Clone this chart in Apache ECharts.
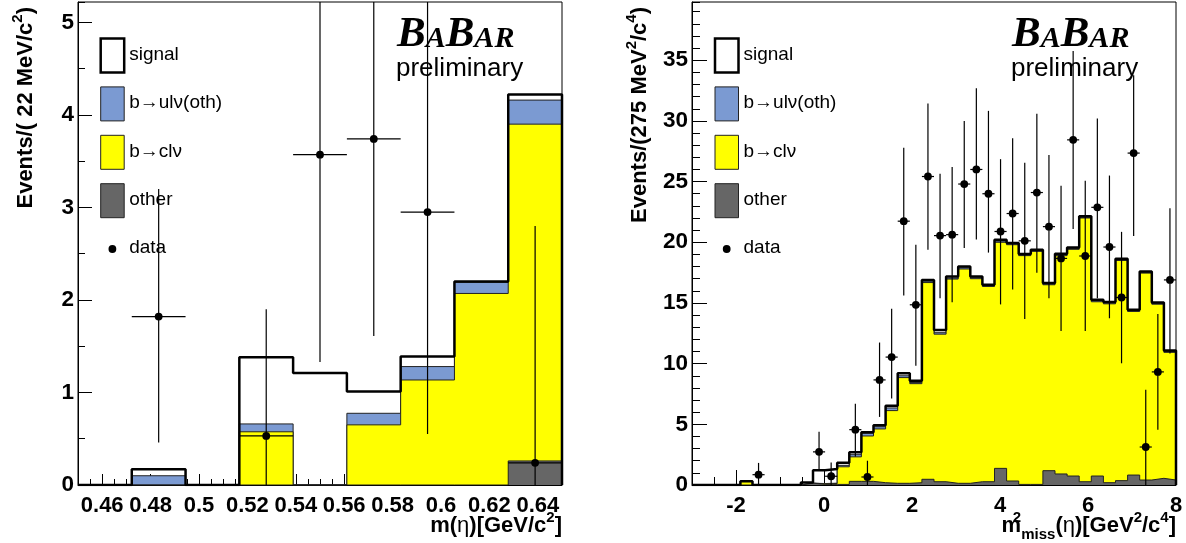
<!DOCTYPE html>
<html><head><meta charset="utf-8">
<script src="https://cdn.jsdelivr.net/npm/echarts@6/dist/echarts.min.js"></script>
<style>html,body{margin:0;padding:0;background:#fff}#c{width:1186px;height:543px}</style>
</head><body><div id="c"></div>
<script>
// ---------- left panel : m(eta), 9 bins of 22 MeV ----------
const leftBinMin = 0.45, leftBinMax = 0.65, leftBinCount = 9;
// stack levels (cumulative tops)
const leftSignalTop = [0, 0.17, 0, 1.38, 1.21, 1.01, 1.39, 2.20, 4.22];
const leftUlnuTop   = [0, 0.10, 0, 0.66, 0,    0.775, 1.28, 2.19, 4.16];
const leftClnuTop   = [0, 0,    0, 0.575, 0,   0.65, 1.135, 2.07, 3.90];
const leftOtherTop  = [0, 0,    0, 0,    0,    0,    0,    0,    0.26];
const leftDataBin   = [1, 3, 4, 5, 6, 8];
const leftDataY     = [1.82, 0.53, 3.57, 3.74, 2.95, 0.24];
const leftDataLow   = [0.46, 0, 1.33, 1.61, 0.55, 0];
const leftDataHigh  = [3.20, 1.90, 6.30, 6.60, 5.50, 2.80];
const leftYMax = 5.22;

// ---------- right panel : m2miss, 40 bins of 0.275 GeV2 ----------
const rightBinMin = -3, rightBinMax = 8, rightBinCount = 40;
const rightSignalTop = [0,0,0,0,0.3,0,0,0,0,0.2,1.22,1.32,1.83,2.70,4.35,4.92,6.53,9.2,8.6,16.9,
  12.78,17.19,18.01,17.19,16.5,20.21,19.94,19.03,19.39,16.64,19.06,19.58,22.14,15.26,15.07,18.65,14.44,17.6,15.04,11.08];
const rightUlnuTop = [0,0,0,0,0.3,0,0,0,0,0.15,0.12,0.15,1.62,2.5,4.26,4.8,6.35,9.0,8.45,16.8,
  12.55,17.05,17.9,17.08,16.42,20.1,19.86,18.96,19.32,16.57,18.98,19.5,22.06,15.18,15.0,18.58,14.37,17.53,14.97,11.0];
const rightClnuTop = [0,0,0,0,0.3,0,0,0,0,0.15,0.1,0.12,1.5,2.32,4.04,4.62,6.13,8.85,8.35,16.68,
  12.43,16.97,17.8,17.0,16.36,20.0,19.8,18.9,19.25,16.5,18.9,19.42,22.0,15.1,14.93,18.5,14.3,17.46,14.9,10.93];
const rightOtherTop = [0,0,0,0,0,0,0,0,0,0.15,0.05,0.05,0.05,0.3,0.3,0.19,0.14,0.14,0.19,0.47,
  0.27,0.14,0.14,0.27,0.27,1.37,0.33,0.05,0.05,1.18,0.91,0.74,0.27,0.74,0.19,0.36,0.82,0.41,0.55,0.41];
const rightDataBin  = [5,10,11,13,14,15,16,17,18,19,20,21,22,23,24,25,26,27,28,29,30,31,32,33,34,35,36,37,38,39];
const rightDataY    = [0.85,2.73,0.72,4.56,0.66,8.66,10.54,21.74,14.85,25.42,20.55,20.63,24.8,26.0,24.0,20.89,22.37,20.12,24.1,21.29,18.67,28.44,18.87,22.88,19.61,15.45,27.35,3.13,9.32,16.9];
const rightDataLow  = [0,1.22,0,2.34,0,5.61,7.12,15.62,9.83,19.38,15.39,15.05,19.52,20.23,19.15,14.88,16.1,13.68,17.5,15.39,12.68,21.09,12.68,15.39,13.74,10.03,20.52,0,4.56,10.83];
const rightDataHigh = [1.82,4.38,1.85,6.70,2.0,11.74,14.53,27.79,19.8,31.43,25.65,26.2,30.0,32.7,30.83,26.85,28.58,26.56,30.6,27.2,24.65,35.76,25.08,30.2,25.5,20.86,33.77,7.84,14.1,22.8];
const rightYMax = 39.8;

const legendNames = ['signal', 'b\u2192ul\u03bd(oth)', 'b\u2192cl\u03bd', 'other', 'data'];

const FONT = '"Liberation Sans", Arial, Helvetica, sans-serif';
const SERIF = '"Liberation Serif", "Times New Roman", serif';
const BLUE = '#7b9ad2', YELLOW = '#ffff00', GRAY = '#666666', EDGE = '#222222';

function stepData(min, max, tops) {
  const n = tops.length, w = (max - min) / n, pts = [[min, 0]];
  for (let i = 0; i < n; i++) pts.push([min + i * w, tops[i]]);
  pts.push([max, tops[n - 1]]);
  pts.push([max, 0]);
  return pts;
}
function dataItems(min, max, n, bins, y, lo, hi) {
  const w = (max - min) / n;
  return bins.map((b, i) => [min + (b + 0.5) * w, y[i], lo[i], hi[i], min + b * w, min + (b + 1) * w]);
}
function renderPoint(params, api) {
  const x = api.value(0), y = api.value(1);
  const c = api.coord([x, y]);
  const a = api.coord([x, api.value(2)]);
  const b = api.coord([x, api.value(3)]);
  const l = api.coord([api.value(4), y]);
  const r = api.coord([api.value(5), y]);
  return {type: 'group', children: [
    {type: 'line', shape: {x1: a[0], y1: a[1], x2: b[0], y2: b[1]}, style: {stroke: '#000', lineWidth: 1.2}},
    {type: 'line', shape: {x1: l[0], y1: l[1], x2: r[0], y2: r[1]}, style: {stroke: '#000', lineWidth: 1.2}},
    {type: 'circle', shape: {cx: c[0], cy: c[1], r: 3.9}, style: {fill: '#000'}}
  ]};
}
function hist(name, ax, data, fill, stroke, lw, z) {
  const s = {type: 'line', name: name, xAxisIndex: ax, yAxisIndex: ax, data: data, step: 'end',
    symbol: 'none', showSymbol: false, silent: true, animation: false, z: z,
    lineStyle: {color: stroke, width: lw}};
  if (fill) s.areaStyle = {color: fill, opacity: 1};
  return s;
}

const RICH = {
  t: {fontSize: 22, fontWeight: 'bold', fontFamily: FONT, color: '#000', lineHeight: 32, verticalAlign: 'middle'},
  g: {fontSize: 22, fontWeight: 'normal', fontFamily: FONT, color: '#000', lineHeight: 32, verticalAlign: 'middle'},
  s: {fontSize: 15, fontWeight: 'bold', fontFamily: FONT, color: '#000', lineHeight: 15, verticalAlign: 'top'},
  s0: {fontSize: 15, fontWeight: 'bold', fontFamily: FONT, color: '#000', lineHeight: 15, verticalAlign: 'top', width: 0.1},
  u: {fontSize: 15, fontWeight: 'bold', fontFamily: FONT, color: '#000', lineHeight: 15, verticalAlign: 'bottom'}
};
const tickFont = (size) => ({color: '#000', fontFamily: FONT, fontWeight: 'bold', fontSize: size});

function xMain(grid, min, max, split, tickLen, showMax, name) {
  return {type: 'value', gridIndex: grid, min: min, max: max, splitNumber: split, position: 'bottom',
    axisLine: {onZero: false, lineStyle: {color: '#000', width: 1}},
    axisTick: {inside: true, length: tickLen, lineStyle: {color: '#000', width: 1}},
    axisLabel: Object.assign(tickFont(22), {margin: 10, showMinLabel: false, showMaxLabel: showMax}),
    splitLine: {show: false},
    name: name, nameLocation: 'end', nameGap: 0, nameMoveOverlap: false,
    nameTextStyle: {align: 'right', verticalAlign: 'top', padding: [25, 0, 0, 0], rich: RICH}};
}
function xMinor(grid, min, max, interval, tickLen) {
  return {type: 'value', gridIndex: grid, min: min, max: max, interval: interval, position: 'bottom',
    axisLine: {show: false, onZero: false}, axisLabel: {show: false}, splitLine: {show: false},
    axisTick: {inside: true, length: tickLen, lineStyle: {color: '#000', width: 1}}};
}
function yMain(grid, max, interval, tickLen, name) {
  return {type: 'value', gridIndex: grid, min: 0, max: max, interval: interval, position: 'left',
    axisLine: {onZero: false, lineStyle: {color: '#000', width: 1}},
    axisTick: {inside: true, length: tickLen, lineStyle: {color: '#000', width: 1}},
    axisLabel: Object.assign(tickFont(22.5), {margin: 4, showMaxLabel: false}),
    splitLine: {show: false},
    name: name, nameLocation: 'end', nameRotate: 90, nameGap: -5, nameMoveOverlap: false,
    nameTextStyle: {align: 'right', verticalAlign: 'bottom', padding: [0, 0, 36, 0], rich: RICH}};
}
function yMinor(grid, max, interval, tickLen) {
  return {type: 'value', gridIndex: grid, min: 0, max: max, interval: interval, position: 'left',
    axisLine: {show: false, onZero: false}, axisLabel: {show: false}, splitLine: {show: false},
    axisTick: {inside: true, length: tickLen, lineStyle: {color: '#000', width: 1}}};
}

function legendGraphics(x0) {
  const fills = [['#ffffff', '#000', 2.5], [BLUE, EDGE, 1], [YELLOW, EDGE, 1], [GRAY, EDGE, 1]];
  const out = [];
  for (let i = 0; i < 4; i++) {
    const yc = 55.5 + i * 48.4;
    out.push({type: 'rect', silent: true, z: 50, shape: {x: x0, y: yc - 17, width: 23.5, height: 34},
      style: {fill: fills[i][0], stroke: fills[i][1], lineWidth: fills[i][2]}});
    out.push({type: 'text', silent: true, z: 50, x: x0 + 28.5, y: yc - 1,
      style: {text: legendNames[i], fontSize: 19, fontFamily: FONT, fill: '#000', verticalAlign: 'middle', align: 'left'}});
  }
  out.push({type: 'circle', silent: true, z: 50, shape: {cx: x0 + 11.7, cy: 249, r: 3.9}, style: {fill: '#000'}});
  out.push({type: 'text', silent: true, z: 50, x: x0 + 28.5, y: 248,
    style: {text: legendNames[4], fontSize: 19, fontFamily: FONT, fill: '#000', verticalAlign: 'middle', align: 'left'}});
  return out;
}
function logoGraphics(x0) {
  const big = {fontSize: 43, fontFamily: SERIF, fontStyle: 'italic', fontWeight: 'bold', fill: '#000', verticalAlign: 'bottom', lineHeight: 43};
  const small = {fontSize: 30, fontFamily: SERIF, fontStyle: 'italic', fontWeight: 'bold', fill: '#000', verticalAlign: 'bottom', lineHeight: 30, padding: [0, 0, 2, 0]};
  return [
    {type: 'text', silent: true, z: 50, x: x0, y: 56,
      style: {text: '{B|B}{A|A}{B|B}{A|AR}', rich: {B: big, A: small}, verticalAlign: 'bottom', align: 'left'}},
    {type: 'text', silent: true, z: 50, x: x0 - 1, y: 68.5,
      style: {text: 'preliminary', fontSize: 26, fontFamily: FONT, fill: '#000', verticalAlign: 'middle', align: 'left'}}
  ];
}

const option = {
  animation: false,
  backgroundColor: '#ffffff',
  textStyle: {fontFamily: FONT},
  grid: [
    {left: 78, top: 2, right: 624, bottom: 58, show: true, borderColor: '#000', borderWidth: 1, backgroundColor: 'transparent', outerBoundsMode: 'none'},
    {left: 692, top: 2, right: 10, bottom: 58, show: true, borderColor: '#000', borderWidth: 1, backgroundColor: 'transparent', outerBoundsMode: 'none'}
  ],
  xAxis: [
    xMain(0, leftBinMin, leftBinMax, 10, 11, false, '{t|m(}{g|\u03b7}{t|)[GeV/c}{s|2}{t|]}'),
    xMinor(0, leftBinMin, leftBinMax, 0.005, 6),
    xMain(1, rightBinMin, rightBinMax, 5, 15, true, '{t|m}{s0|2}{u|miss}{t|(}{g|\u03b7}{t|)[GeV}{s|2}{t|/c}{s|4}{t|]}'),
    xMinor(1, rightBinMin, rightBinMax, 0.5, 8)
  ],
  yAxis: [
    yMain(0, leftYMax, 1, 14, '{t|Events/( 22 MeV/c}{s|2}{t|)}'),
    yMinor(0, leftYMax, 0.5, 7),
    yMain(1, rightYMax, 5, 15, '{t|Events/(275 MeV}{s|2}{t|/c}{s|4}{t|)}'),
    yMinor(1, rightYMax, 1, 8)
  ],
  series: [
    hist(legendNames[1], 0, stepData(leftBinMin, leftBinMax, leftUlnuTop), BLUE, EDGE, 1, 2),
    hist(legendNames[2], 0, stepData(leftBinMin, leftBinMax, leftClnuTop), YELLOW, EDGE, 1, 3),
    hist(legendNames[3], 0, stepData(leftBinMin, leftBinMax, leftOtherTop), GRAY, EDGE, 1, 4),
    hist(legendNames[0], 0, stepData(leftBinMin, leftBinMax, leftSignalTop), null, '#000', 2.5, 5),
    {type: 'custom', name: legendNames[4], xAxisIndex: 0, yAxisIndex: 0, clip: true, silent: true, z: 10,
      data: dataItems(leftBinMin, leftBinMax, leftBinCount, leftDataBin, leftDataY, leftDataLow, leftDataHigh), renderItem: renderPoint},

    hist(legendNames[1], 2, stepData(rightBinMin, rightBinMax, rightUlnuTop), BLUE, EDGE, 1, 2),
    hist(legendNames[2], 2, stepData(rightBinMin, rightBinMax, rightClnuTop), YELLOW, EDGE, 1, 3),
    hist(legendNames[3], 2, stepData(rightBinMin, rightBinMax, rightOtherTop), GRAY, EDGE, 1, 4),
    hist(legendNames[0], 2, stepData(rightBinMin, rightBinMax, rightSignalTop), null, '#000', 2.5, 5),
    {type: 'custom', name: legendNames[4], xAxisIndex: 2, yAxisIndex: 2, clip: true, silent: true, z: 10,
      data: dataItems(rightBinMin, rightBinMax, rightBinCount, rightDataBin, rightDataY, rightDataLow, rightDataHigh), renderItem: renderPoint}
  ],
  graphic: [].concat(legendGraphics(100.7), legendGraphics(715), logoGraphics(397), logoGraphics(1012))
};

const chart = echarts.init(document.getElementById('c'), null, {renderer: 'canvas', width: 1186, height: 543});
chart.setOption(option);
</script>
</body></html>
